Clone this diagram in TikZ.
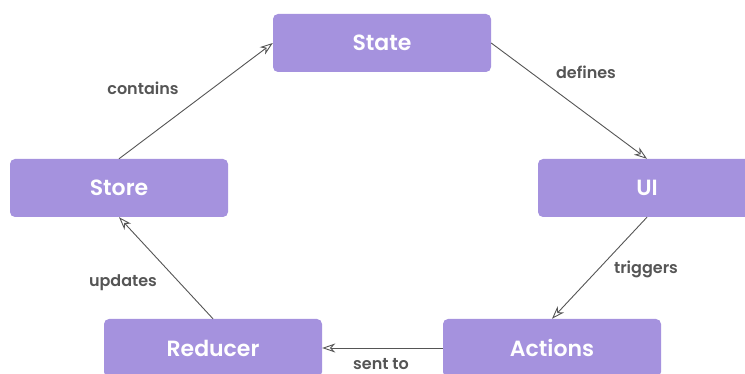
\documentclass[tikz,border=0pt]{standalone}
\usepackage{fontspec}
\setmainfont{Poppins}[BoldFont={Poppins SemiBold}]
\usetikzlibrary{arrows.meta}
\definecolor{boxpurple}{RGB}{165,146,222}
\definecolor{linegray}{RGB}{85,85,85}

\begin{document}
\begin{tikzpicture}[x=1pt,y=-1pt,
  block/.style={fill=boxpurple, rounded corners=5pt, minimum width=218pt, minimum height=58pt, text=white, font=\fontsize{22}{26}\selectfont\bfseries},
  flow/.style={draw=linegray, line width=0.9pt, -{Stealth[open,length=13pt,width=9pt,inset=4pt]}},
  lbl/.style={text=linegray, font=\fontsize{16}{19}\selectfont\bfseries}]
\useasboundingbox (0,0) rectangle (745,374);
\node [block] (state) at (382,43) {State};
\node [block] (ui) at (647,188) {UI};
\node [block] (store) at (119,188) {Store};
\node [block] (reducer) at (213,348) {Reducer};
\node [block] (actions) at (552,348) {Actions};
\draw [flow] (store.north) -- (state.west);
\draw [flow] (state.east) -- (ui.north);
\draw [flow] (ui.south) -- (actions.north);
\draw [flow] (actions.west) -- (reducer.east);
\draw [flow] (reducer.north) -- (store.south);
\node [lbl] (contains) at (143,88) {contains};
\node [lbl] (defines) at (586,72) {defines};
\node [lbl] (triggers) at (646,269) {triggers};
\node [lbl] (sentto) at (381,364) {sent to};
\node [lbl] (updates) at (123,283) {updates};
\end{tikzpicture}
\end{document}
